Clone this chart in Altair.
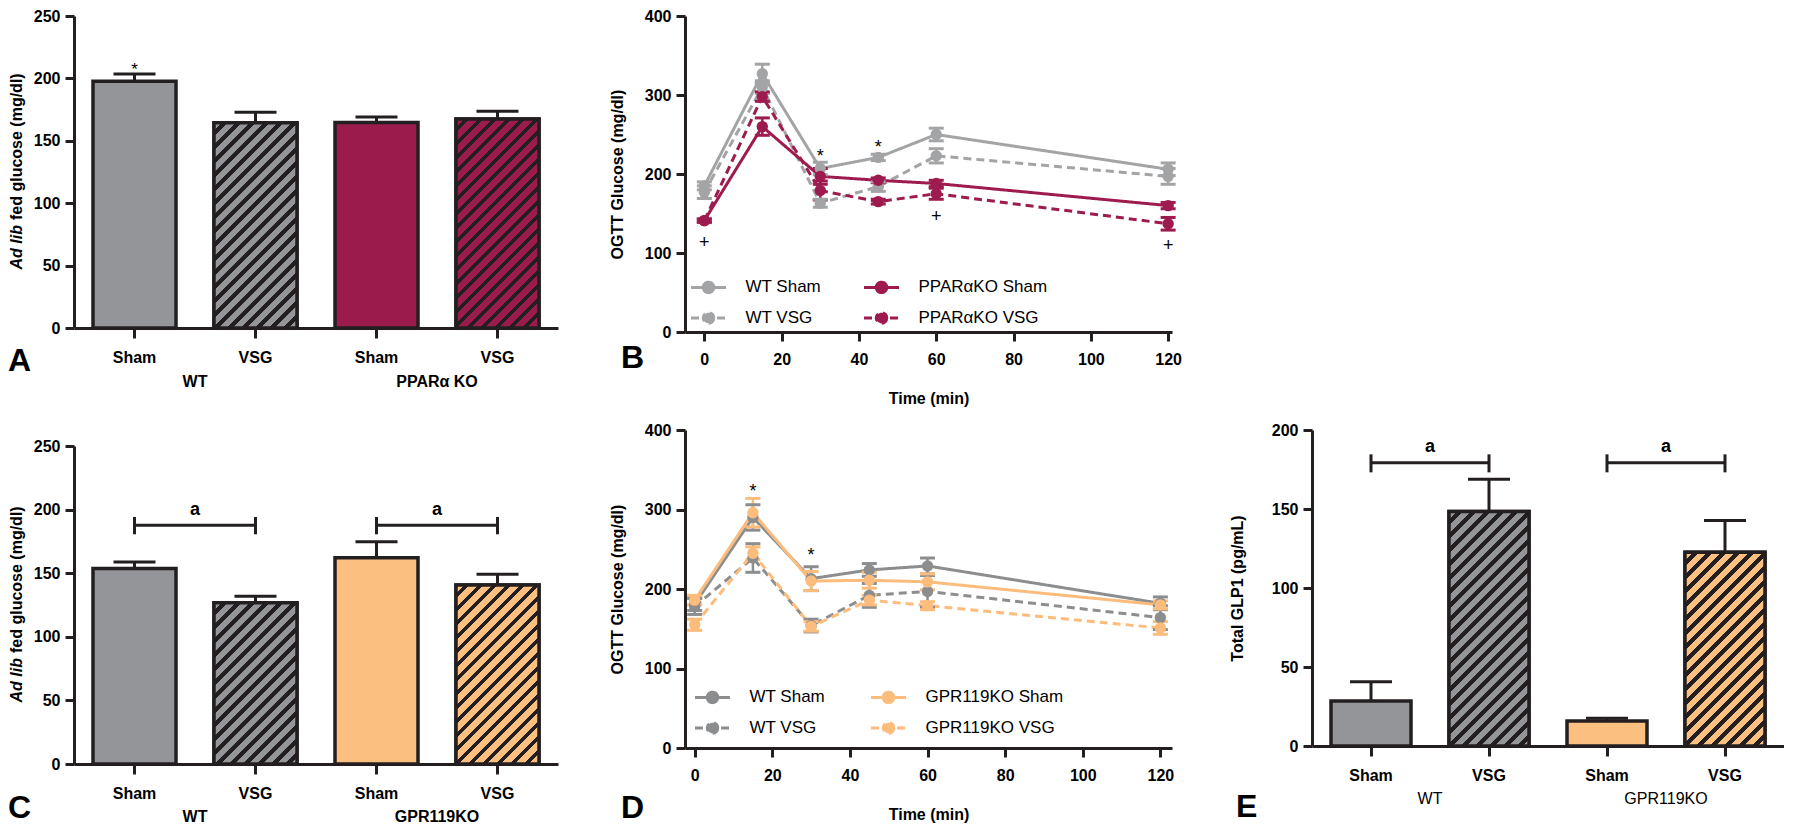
import altair as alt
import pandas as pd

FONT = "Liberation Sans"
INK = "#231f20"
GREY = "#939598"
MAROON = "#9b1b4d"
PEACH = "#fbc07f"
B_GREY = "#a3a4a6"
B_MAROON = "#9e1b4f"
D_GREY = "#8c8d8f"
D_PEACH = "#fcbc7c"

# ---------------- Panel A : ad lib fed glucose, PPARa KO ----------------
a_keys = ["WT|Sham", "WT|VSG", "KO|Sham", "KO|VSG"]
a_mean = [197.8, 164.4, 164.7, 167.5]
a_sem = [5.7, 8.5, 4.3, 6.2]
a_fill = [GREY, GREY, MAROON, MAROON]
a_hatched = [False, True, False, True]
a_group_key = ["WT|Sham", "KO|Sham"]
a_group_text = ["WT", "PPARα KO"]
a_star_key = ["WT|Sham"]
a_star_y = [207.0]

# ---------------- Panel C : ad lib fed glucose, GPR119 KO ----------------
c_keys = ["WT|Sham", "WT|VSG", "GPR|Sham", "GPR|VSG"]
c_mean = [153.6, 126.7, 162.1, 140.8]
c_sem = [5.2, 5.2, 12.6, 8.3]
c_fill = [GREY, GREY, PEACH, PEACH]
c_hatched = [False, True, False, True]
c_group_key = ["WT|Sham", "GPR|Sham"]
c_group_text = ["WT", "GPR119KO"]
c_br_left = ["WT|Sham", "GPR|Sham"]
c_br_right = ["WT|VSG", "GPR|VSG"]
c_br_y = [187.6, 187.6]
c_br_lo = [180.6, 180.6]
c_br_hi = [194.2, 194.2]
c_br_text_y = [199.5, 199.5]

# ---------------- Panel E : total GLP1 ----------------
e_keys = ["WT|Sham", "WT|VSG", "GPR|Sham", "GPR|VSG"]
e_mean = [28.5, 148.4, 15.9, 122.7]
e_sem = [12.1, 20.5, 1.6, 20.0]
e_fill = [GREY, GREY, PEACH, PEACH]
e_hatched = [False, True, False, True]
e_group_key = ["WT|Sham", "GPR|Sham"]
e_group_text = ["WT", "GPR119KO"]
e_br_left = ["WT|Sham", "GPR|Sham"]
e_br_right = ["WT|VSG", "GPR|VSG"]
e_br_y = [179.2, 179.2]
e_br_lo = [173.2, 173.2]
e_br_hi = [184.6, 184.6]
e_br_text_y = [189.5, 189.5]

# ---------------- Panel B : OGTT, PPARa KO ----------------
times = [0, 15, 30, 45, 60, 120]
b_series = ["WT Sham", "WT VSG", "PPARαKO Sham", "PPARαKO VSG"]
b_mean = [
    [185, 327, 207, 221, 250, 206],
    [177, 310, 163, 184, 223, 197],
    [141, 260, 197, 192, 188, 160],
    [141, 298, 179, 165, 175, 137],
]
b_sem = [
    [5, 12, 8, 4, 8, 8],
    [8, 8, 5, 6, 9, 10],
    [2, 11, 10, 3, 4, 4],
    [2, 6, 12, 3, 7, 8],
]
b_colors = [B_GREY, B_GREY, B_MAROON, B_MAROON]
b_mark_t = [30, 45, 0, 60, 120]
b_mark_y = [222, 233, 113, 146, 109]
b_mark_s = ["*", "*", "+", "+", "+"]

# ---------------- Panel D : OGTT, GPR119 KO ----------------
d_series = ["WT Sham", "WT VSG", "GPR119KO Sham", "GPR119KO VSG"]
d_mean = [
    [181, 290, 213, 224, 229, 182],
    [178, 239, 154, 192, 197, 164],
    [186, 296, 210, 211, 209, 180],
    [155, 245, 153, 186, 179, 151],
]
d_sem = [
    [8, 16, 15, 8, 10, 8],
    [10, 18, 8, 15, 20, 15],
    [6, 18, 12, 10, 10, 5],
    [7, 8, 6, 6, 5, 8],
]
d_colors = [D_GREY, D_GREY, D_PEACH, D_PEACH]
d_mark_t = [15, 30]
d_mark_y = [322, 241]
d_mark_s = ["*", "*"]

series_dash = [[1, 0], [8, 5], [1, 0], [8, 5]]

LEGEND_SYMBOL = "M-1,0L1,0M0.3,0A0.3,0.3,0,1,1,-0.3,0A0.3,0.3,0,1,1,0.3,0Z"


def hatch_fill(color, w, h, period=14.0, black=0.42):
    k = (w + h) * h / (w * w + h * h)
    n = (w + h) / period
    stops = []
    i = 0
    while i < n:
        a = round(i / n, 5)
        b = round(min((i + 1 - black) / n, 1.0), 5)
        c = round(min((i + 1) / n, 1.0), 5)
        stops += [
            {"offset": a, "color": color},
            {"offset": b, "color": color},
            {"offset": b, "color": INK},
            {"offset": c, "color": INK},
        ]
        i += 1
    return {"gradient": "linear", "x1": 0, "y1": 0,
            "x2": round(k * w / h, 5), "y2": round(k, 5), "stops": stops}


def text_layer(df, x, y, text, **mk):
    props = dict(font=FONT, color="black")
    props.update(mk)
    return alt.Chart(df).mark_text(**props).encode(x=x, y=y, text=alt.Text(text))


def bar_panel(keys, mean, sem, fills, hatched, group_key, group_text, group_weight, group_dy,
              ymax, ystep, width, height, yrange, bar_w, letter, letter_x, letter_y,
              ytitle=None, ytitle_parts=None, star_key=None, star_y=None,
              br=None):
    step = width / 4.0
    pin = 1 - bar_w / step
    zero_y = yrange[0]
    px_per = (yrange[0] - yrange[1]) / ymax
    df = pd.DataFrame({"key": keys, "mean": mean,
                       "top": [m + s for m, s in zip(mean, sem)]})
    xs = alt.Scale(domain=keys, paddingInner=pin, paddingOuter=pin / 2)
    ys = alt.Scale(domain=[0, ymax], range=yrange, nice=False)
    xaxis = alt.Axis(title=None, labelExpr="split(datum.label, '|')[1]",
                     tickSize=10, labelPadding=11, labelAngle=0)
    yaxis_kw = dict(values=list(range(0, ymax + 1, ystep)), tickSize=9, labelPadding=5)
    if ytitle:
        yaxis_kw.update(title=ytitle, titleX=-75, titleY=(yrange[0] + yrange[1]) / 2,
                        titleAngle=270, titleAlign="center", titleBaseline="middle")
    else:
        yaxis_kw.update(title=None)
    yaxis = alt.Axis(**yaxis_kw)

    def X(field="key"):
        return alt.X(f"{field}:N", scale=xs, axis=xaxis)

    def Y(field):
        return alt.Y(f"{field}:Q", scale=ys, axis=yaxis)

    layers = []
    layers.append(
        alt.Chart(df).mark_bar(stroke=INK, strokeWidth=3.5).encode(
            x=X(), y=Y("mean"),
            fill=alt.Fill("key:N", scale=alt.Scale(domain=keys, range=fills), legend=None),
        )
    )
    for k, m, f, h in zip(keys, mean, fills, hatched):
        if h:
            grad = hatch_fill(f, bar_w, m * px_per)
            layers.append(
                alt.Chart(df).transform_filter(alt.datum.key == k)
                .mark_bar(fill=grad, stroke=INK, strokeWidth=3.5)
                .encode(x=X(), y=Y("mean"))
            )
    layers.append(
        alt.Chart(df).mark_rule(color=INK, strokeWidth=3).encode(
            x=X(), y=Y("mean"), y2="top:Q")
    )
    layers.append(
        alt.Chart(df).mark_tick(color=INK, orient="horizontal", size=42, thickness=3, opacity=1).encode(
            x=X(), y=Y("top"))
    )
    if star_key:
        sdf = pd.DataFrame({"key": star_key, "y": star_y, "t": ["*"] * len(star_key)})
        layers.append(text_layer(sdf, X(), Y("y"), "t:N",
                                 fontSize=17, baseline="middle", align="center"))
    if br:
        left, right, by, lo, hi, ty = br
        bdf = pd.DataFrame({"k1": left, "k2": right, "y": by, "ty": ty,
                            "t": ["a"] * len(left)})
        layers.append(
            alt.Chart(bdf).mark_rule(color=INK, strokeWidth=3).encode(
                x=X("k1"), x2="k2:N", y=Y("y"))
        )
        edf = pd.DataFrame({"key": list(left) + list(right), "lo": list(lo) * 2, "hi": list(hi) * 2})
        layers.append(
            alt.Chart(edf).mark_rule(color=INK, strokeWidth=3).encode(
                x=X(), y=Y("lo"), y2="hi:Q")
        )
        layers.append(text_layer(bdf, X("k1"), Y("ty"), "t:N",
                                 fontSize=18, fontWeight="bold", dx=step / 2,
                                 align="center", baseline="middle"))
    gdf = pd.DataFrame({"key": group_key, "t": group_text})
    layers.append(text_layer(gdf, X(), alt.value(zero_y + group_dy), "t:N", fontSize=16,
                             fontWeight=group_weight, dx=step / 2, align="center",
                             baseline="middle"))
    ldf = pd.DataFrame({"t": [letter]})
    layers.append(text_layer(ldf, alt.value(letter_x), alt.value(letter_y), "t:N",
                             fontSize=32, fontWeight="bold", align="left", baseline="middle"))
    if ytitle_parts:
        italic_part, rest_part = ytitle_parts
        center = (yrange[0] + yrange[1]) / 2
        junction = center + 53
        layers.append(text_layer(pd.DataFrame({"t": [italic_part]}), alt.value(-57),
                                 alt.value(junction), "t:N", fontSize=16, fontWeight="bold",
                                 fontStyle="italic", angle=270, align="right",
                                 baseline="middle"))
        layers.append(text_layer(pd.DataFrame({"t": [rest_part]}), alt.value(-57),
                                 alt.value(junction), "t:N", fontSize=16, fontWeight="bold",
                                 angle=270, align="left", baseline="middle", dx=5))
    return alt.layer(*layers).properties(width=width, height=height)


def line_panel(series, means, sems, colors, xdomain, width, height, xrange_px,
               leg_x, leg_y, leg_colpad, leg_rowpad, mark_t, mark_y, mark_s,
               letter, letter_x, letter_y):
    rows = []
    for name, mv, sv in zip(series, means, sems):
        for t, m, s in zip(times, mv, sv):
            rows.append({"time": t, "group": name, "mean": m, "lo": m - s, "hi": m + s})
    df = pd.DataFrame(rows)
    caps = pd.concat([
        df[["time", "group", "lo"]].rename(columns={"lo": "cap"}),
        df[["time", "group", "hi"]].rename(columns={"hi": "cap"}),
    ])
    xs = alt.Scale(domain=xdomain, range=xrange_px, nice=False, zero=False)
    ys = alt.Scale(domain=[0, 400], nice=False)
    legend = alt.Legend(orient="none", legendX=leg_x, legendY=leg_y, columns=2, title=None,
                        symbolType=LEGEND_SYMBOL, symbolSize=1225, symbolStrokeWidth=3,
                        symbolOpacity=1, labelFont=FONT, labelFontSize=17,
                        labelFontWeight="normal", labelColor="black", labelOffset=18,
                        columnPadding=leg_colpad, rowPadding=leg_rowpad, padding=0,
                        labelLimit=0)
    cscale = alt.Scale(domain=series, range=colors)
    color = alt.Color("group:N", scale=cscale, legend=legend)
    dash = alt.StrokeDash("group:N", scale=alt.Scale(domain=series, range=series_dash),
                          legend=legend)
    xaxis = alt.Axis(values=[0, 20, 40, 60, 80, 100, 120], title="Time (min)",
                     tickSize=9, labelPadding=10, titleY=66, titleBaseline="middle")
    yaxis = alt.Axis(values=[0, 100, 200, 300, 400], title="OGTT Glucose (mg/dl)",
                     tickSize=9, labelPadding=5, titleX=-68, titleY=height / 2,
                     titleAngle=270, titleAlign="center", titleBaseline="middle")

    def X():
        return alt.X("time:Q", scale=xs, axis=xaxis)

    def Y(field):
        return alt.Y(f"{field}:Q", scale=ys, axis=yaxis)

    layers = [
        alt.Chart(df).mark_line(strokeWidth=3).encode(
            x=X(), y=Y("mean"), color=color, strokeDash=dash),
        alt.Chart(df).mark_rule(strokeWidth=2.5).encode(
            x=X(), y=Y("lo"), y2="hi:Q", color=color),
        alt.Chart(caps).mark_tick(orient="horizontal", size=15, thickness=3, opacity=1).encode(
            x=X(), y=Y("cap"), color=color),
        alt.Chart(df).mark_circle(size=130, opacity=1).encode(
            x=X(), y=Y("mean"), color=color),
    ]
    mdf = pd.DataFrame({"time": mark_t, "y": mark_y, "t": mark_s})
    layers.append(text_layer(mdf, X(), Y("y"), "t:N",
                             fontSize=18, align="center", baseline="middle"))
    layers.append(text_layer(pd.DataFrame({"t": [letter]}), alt.value(letter_x),
                             alt.value(letter_y), "t:N", fontSize=32, fontWeight="bold",
                             align="left", baseline="middle"))
    return alt.layer(*layers).properties(width=width, height=height)


panel_a = bar_panel(a_keys, a_mean, a_sem, a_fill, a_hatched, a_group_key, a_group_text,
                    "bold", 54, 250, 50, 484, 312, [312, 0], 83, "A", -66, 345,
                    ytitle_parts=("Ad lib", "fed glucose (mg/dl)"),
                    star_key=a_star_key, star_y=a_star_y)
panel_c = bar_panel(c_keys, c_mean, c_sem, c_fill, c_hatched, c_group_key, c_group_text,
                    "bold", 53, 250, 50, 484, 334, [334, 16], 83, "C", -66, 378,
                    ytitle_parts=("Ad lib", "fed glucose (mg/dl)"),
                    br=(c_br_left, c_br_right, c_br_y, c_br_lo, c_br_hi, c_br_text_y))
panel_e = bar_panel(e_keys, e_mean, e_sem, e_fill, e_hatched, e_group_key, e_group_text,
                    "normal", 53, 200, 50, 472, 316, [316, 0], 80, "E", -76, 377,
                    ytitle="Total GLP1 (pg/mL)",
                    br=(e_br_left, e_br_right, e_br_y, e_br_lo, e_br_hi, e_br_text_y))
panel_b = line_panel(b_series, b_mean, b_sem, b_colors, [-5, 121], 500, 316, [0, 487],
                     4.5, 252, 36, -11, b_mark_t, b_mark_y, b_mark_s, "B", -64, 342)
panel_d = line_panel(d_series, d_mean, d_sem, d_colors, [-2.5, 123], 500, 318, [0, 487],
                     8.5, 248, 39, -8, d_mark_t, d_mark_y, d_mark_s, "D", -64, 378)

spacer = alt.Chart(pd.DataFrame({"v": [0]})).mark_point(opacity=0).encode(
    x=alt.value(0), y=alt.value(0)).properties(width=472, height=10)

chart = alt.concat(
    panel_a, panel_b, spacer, panel_c, panel_d, panel_e,
    columns=3, spacing={"row": 98, "column": 127}, bounds="flush", align="each",
).resolve_scale(
    color="independent", fill="independent", strokeDash="independent"
).properties(padding=0).configure_view(stroke=None).configure_axis(
    grid=False, domainColor=INK, domainWidth=3, tickColor=INK, tickWidth=3,
    labelFont=FONT, labelFontSize=16, labelFontWeight="bold", labelColor="black",
    titleFont=FONT, titleFontSize=16, titleFontWeight="bold", titleColor="black",
    labelFlush=False,
)

chart.save("out.html", embed_options={"renderer": "svg", "actions": False})
